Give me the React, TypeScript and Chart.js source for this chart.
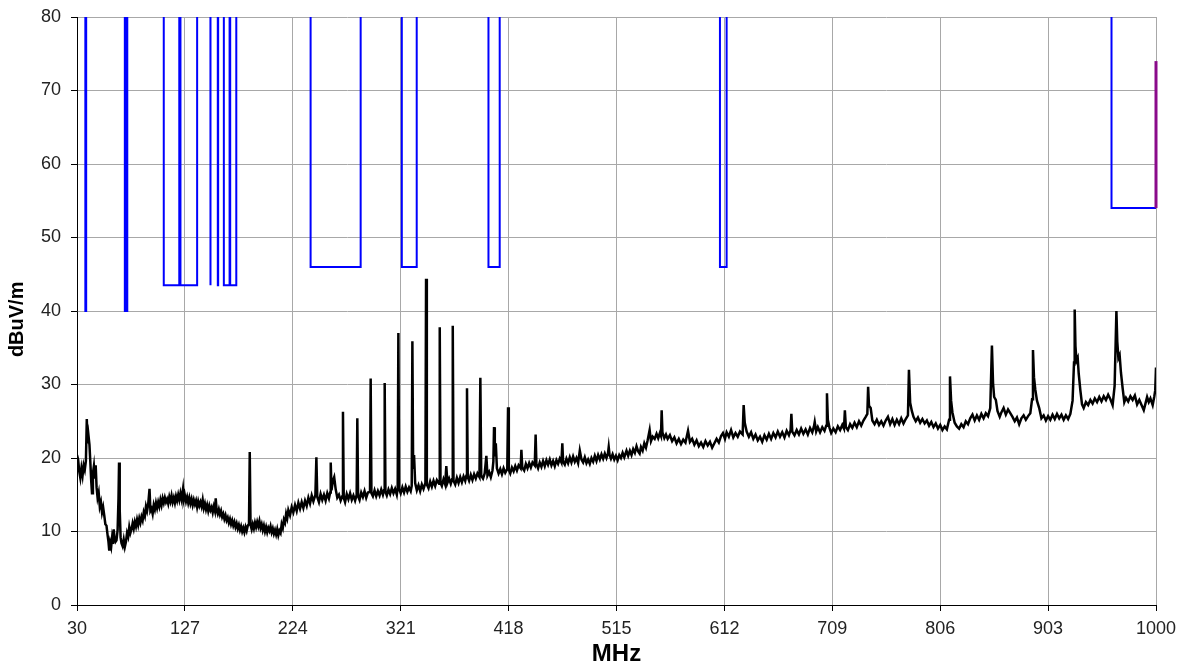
import { useEffect, useRef } from 'react';
import { Chart, registerables } from 'chart.js';

Chart.register(...registerables);

// X axis (MHz) and Y axis (dBuV/m) tick values
const xTickValues = [30, 127, 224, 321, 418, 515, 612, 709, 806, 903, 1000];
const yTickValues = [0, 10, 20, 30, 40, 50, 60, 70, 80];

// Restricted bands (limit line dips): start MHz, end MHz, limit dBuV/m
const bandStartMHz = [37.5, 73, 74.8, 108, 123, 149.9, 156.52475, 156.7, 162.0125, 167.72, 240, 322, 399.9, 608, 960];
const bandEndMHz = [38.25, 74.6, 75.2, 121.94, 138, 150.05, 156.52525, 156.9, 167.17, 173.2, 285, 335.4, 410, 614, 1000];
const bandLimitDb = [40, 40, 40, 43.5, 43.5, 43.5, 43.5, 43.5, 43.5, 43.5, 46, 46, 46, 46, 54];
const openLimitDb = 120; // outside restricted bands (off the top of the chart)

// Limit step at 1000 MHz (purple)
const edgeLimitMHz = [1000, 1000];
const edgeLimitDb = [54, 74];

// Measured emission trace: [MHz, dBuV/m]
const traceLow: [number, number][] = [
  [30, 20.4], [31, 19.8], [32, 18.2], [33, 17.3], [34, 18.6], [35, 17.6], [36, 19.0], [37, 18.4], [38, 19.6], [38.8, 25.3],
  [39.5, 22.0], [40.3, 23.1], [41.2, 21.8], [42, 19.4], [42.8, 16.8], [43.5, 15.2], [44.3, 17.9], [45.2, 18.9], [46, 17.2], [46.8, 19.0],
  [47.6, 16.0], [48.5, 14.6], [49.5, 15.3], [50.5, 13.4], [51.5, 14.0], [52.5, 12.6], [53.5, 13.3], [54.5, 12.2], [55.5, 11.0], [56.5, 10.8],
  [57.5, 9.5], [58.3, 8.6], [59, 7.4], [59.8, 8.5], [60.7, 7.9], [61.5, 9.1], [62.3, 8.3], [63, 10.3], [63.8, 9.0], [64.6, 8.6],
  [65.5, 8.8], [66.5, 10.2], [67.3, 14.5], [67.8, 19.4], [68.4, 13.0], [69.2, 9.2], [70, 8.4], [71, 8.0], [72, 8.9], [73, 7.9],
  [74, 8.6], [75, 9.8], [76, 9.3], [77, 10.6], [78, 9.8], [79, 10.3], [80, 11.1], [81, 10.4], [82, 11.3], [83, 10.7],
  [84, 11.6], [85, 10.9], [86, 11.8], [87, 11.2], [88, 12.0], [89, 11.5], [90, 12.6], [91, 12.1], [92, 13.4], [93, 12.8],
  [94, 13.7], [95.2, 15.8], [96, 12.8], [97, 13.1], [98, 12.4], [99, 13.6], [100, 13.0], [101, 13.9], [102, 13.2], [103, 14.0],
  [104, 13.4], [105, 14.3], [106, 13.6], [107, 14.5], [108, 13.9], [109, 14.6], [110, 14.0], [111, 14.4], [112, 13.8], [113, 14.7],
  [114, 14.1], [115, 14.9], [116, 14.0], [117, 14.6], [118, 13.9], [119, 14.8], [120, 14.2], [121, 15.0], [122, 14.3], [123, 15.2],
  [124, 14.4], [125.3, 15.8], [126, 14.3], [127, 14.9], [128, 14.1], [129, 14.7], [130, 13.9], [131, 14.6], [132, 13.8], [133, 14.4],
  [134, 13.6], [135, 14.3], [136, 13.7], [137, 14.2], [138, 13.3], [139, 14.1], [140, 13.5], [141, 14.0], [142, 13.4], [143, 14.3],
  [144, 13.2], [145, 13.8], [146, 13.0], [147, 13.6], [148, 12.8], [149, 13.5], [150, 12.9], [151, 13.3], [152, 12.6], [153, 13.4],
  [154, 12.8], [154.7, 14.5], [155.5, 12.9], [156.5, 12.4], [157.5, 13.0], [158.5, 12.3], [159.5, 12.8], [160.5, 12.0], [161.5, 12.4], [162.5, 11.7],
  [163.5, 12.2], [164.5, 11.5], [165.5, 11.9], [166.5, 11.2], [167.5, 11.7], [168.5, 11.0], [169.5, 11.5], [170.5, 10.8], [171.5, 11.3], [172.5, 10.6],
  [173.5, 11.1], [174.5, 10.4], [175.5, 10.9], [176.5, 10.2], [177.5, 10.7], [178.5, 10.0], [179.5, 10.5], [180.5, 9.9], [181.5, 10.6], [182.5, 10.1],
  [183.5, 10.8], [184.6, 11.0], [185.3, 20.8], [186, 10.9], [187, 10.3], [188, 11.0], [189, 10.4], [190, 11.2], [191, 10.6], [192, 11.3],
  [193, 10.7], [194, 11.4], [195, 10.5], [196, 11.0], [197, 10.2], [198, 10.8], [199, 10.0], [200, 10.6], [201, 9.9], [202, 10.5],
  [203, 10.1], [204, 10.7], [205, 9.9], [206, 10.4], [207, 9.7], [208, 10.2], [209, 9.6], [210, 10.3], [211, 9.5], [212, 10.1],
  [213, 9.8], [214, 11.0], [215, 10.5], [216, 11.6], [217, 11.2], [218, 12.4], [219, 11.8], [220, 12.9],
];

const traceMid: [number, number][] = [
  [221.5, 12.2], [223, 13.3], [224.5, 12.6], [226, 13.6], [227.5, 12.8], [229, 13.9], [230.5, 13.1], [232, 14.0], [233.5, 13.2], [235, 14.2],
  [236.5, 13.5], [238, 14.6], [239.5, 13.8], [241, 14.9], [242.5, 14.1], [244.3, 15.0], [245.2, 20.1], [246, 14.7], [247.5, 14.0], [249, 15.1],
  [250.5, 14.3], [252, 15.0], [253.5, 14.2], [255, 15.2], [256.5, 14.5], [257.6, 15.3], [258.1, 19.4], [258.8, 15.6], [260, 16.9], [261.2, 17.4],
  [262.5, 15.8], [264, 14.6], [265.5, 15.0], [267, 14.2], [268.5, 14.8], [269.1, 26.3], [269.8, 14.6], [271, 14.0], [272.5, 15.1], [274, 14.4],
  [275.5, 15.2], [277, 14.3], [278.5, 14.9], [280, 14.2], [281.4, 15.0], [282.0, 25.4], [282.7, 14.8], [284, 14.3], [285.5, 15.3], [287, 14.7],
  [288.5, 15.5], [290, 14.6], [291.5, 15.3], [293.4, 15.4], [294, 30.8], [294.7, 15.2], [296, 14.8], [297.5, 15.6], [299, 14.8], [300.5, 15.5],
  [302, 14.9], [303.5, 15.7], [305, 15.0], [306.0, 15.6], [306.6, 30.2], [307.3, 15.4], [308.5, 14.9], [310, 15.7], [311.5, 15.1], [313, 15.9],
  [314.5, 15.2], [316, 15.8], [317.5, 15.0], [318.3, 15.9], [318.9, 37.0], [319.6, 15.8], [321, 15.2], [322.5, 16.0], [324, 15.3], [325.5, 16.1],
  [327, 15.4], [328.5, 16.0], [330, 15.5], [330.9, 16.2], [331.5, 35.9], [332.2, 18.5], [333, 20.4], [334, 16.6], [335.5, 15.6], [337, 16.3],
  [338.5, 15.5], [340, 16.4], [341.5, 15.8], [343.2, 16.6], [343.8, 44.4], [344.5, 16.4], [346, 15.9], [347.5, 16.8], [349, 16.1], [350.5, 16.9],
  [352, 16.2], [353.5, 17.0], [355.5, 16.5], [356.1, 37.8], [356.8, 16.6], [358, 16.2], [359.5, 17.1], [361, 16.4], [362, 18.9], [363, 16.6],
  [364.5, 17.2], [366, 16.5], [367.2, 17.1], [367.8, 38.0], [368.5, 16.9], [370, 16.4], [371.5, 17.3], [373, 16.6], [374.5, 17.4], [376, 16.7],
  [377.5, 17.5], [379, 16.9], [380, 17.6], [380.6, 29.5], [381.3, 17.4], [382.5, 16.9], [384, 17.7], [385.5, 17.0], [387, 17.8], [388.5, 17.2],
  [390, 17.9], [391.8, 17.4], [392.6, 30.9], [393.4, 17.6], [395, 17.2], [396.5, 17.9], [398, 20.3], [399, 17.6], [400.5, 18.1], [402, 17.4],
  [403.5, 18.3], [404.3, 19.5], [404.9, 24.2], [405.6, 20.2], [406.5, 22.0], [407.5, 18.6], [409, 17.9], [410.5, 18.5], [412, 17.8], [413.5, 18.6],
  [415, 18.0], [416.8, 18.5], [417.5, 26.9], [418.2, 18.4], [419.5, 17.9], [421, 18.7], [422.5, 18.2], [424, 18.9], [425.5, 18.3], [427, 19.0],
  [428.8, 18.6], [429.5, 21.1], [430.3, 18.7], [432, 18.3], [433.5, 19.2], [435, 18.6], [436.5, 19.3], [438, 18.7], [439.5, 19.4], [441.5, 19.0],
  [442.3, 23.2], [443, 19.2], [444.5, 18.6], [446, 19.4], [447.5, 18.8], [449, 19.6], [450.5, 18.9], [452, 19.7], [453.5, 19.1], [455, 19.8],
  [456.5, 19.0], [458, 19.6], [459.5, 18.9], [461, 19.7], [462.5, 19.2], [464, 19.9], [465.5, 19.4], [466.3, 22.0], [467, 19.5], [468.5, 19.1],
  [470, 19.9], [471.5, 19.3], [473, 20.1], [474.5, 19.4], [476, 20.2], [477.5, 19.5], [479, 20.0], [480.5, 19.3], [482, 21.0], [483.5, 19.8],
  [485, 19.4], [486.5, 20.1], [488, 19.3], [489.5, 19.8], [491, 19.2], [492.5, 20.0], [494, 19.5], [495.5, 20.3], [497, 19.6], [498.5, 20.4],
  [500, 19.8], [501.5, 20.5], [503, 19.9], [504.5, 20.6], [506, 20.0], [507.3, 20.6], [508, 21.5], [508.8, 20.4], [510, 19.9], [511.5, 20.5],
  [513, 19.8], [514.5, 20.3], [516, 19.7], [517.5, 20.4], [519, 20.0], [520.5, 20.7], [522, 20.1], [524, 21.0], [525.5, 20.3], [527, 21.0],
  [528.5, 20.4], [530, 21.2], [531.5, 20.7], [533, 21.6], [534.5, 20.9], [535.8, 20.6], [537, 21.5], [538.5, 21.0], [540, 22.0], [541.5, 21.4],
  [543, 22.4], [544.8, 23.8], [546, 22.3], [547.5, 22.9], [549.3, 22.6], [551, 23.3], [552.5, 22.7], [554, 23.4], [555, 23.0], [555.6, 26.5],
  [556.3, 23.5], [558, 22.7], [559.5, 23.2],
];

const traceHigh: [number, number][] = [
  [561, 22.6], [563, 23.1], [565, 22.3], [567, 22.8], [569, 22.0], [571, 22.6], [573, 21.9], [575, 22.5], [577, 22.1], [579.3, 23.7],
  [581, 22.2], [583, 22.6], [585, 21.8], [587, 22.4], [589, 21.6], [591, 22.1], [593, 21.5], [595, 22.3], [597, 21.7], [599, 22.2],
  [601, 21.4], [603, 22.0], [605, 22.6], [607, 22.1], [609, 23.0], [610.7, 23.4], [612.5, 22.6], [614, 23.5], [616, 22.9], [618, 23.8],
  [620, 22.8], [622, 23.4], [624, 22.9], [626, 23.6], [628.4, 23.2], [629.3, 27.2], [630.3, 24.8], [632, 23.6], [634, 22.9], [636, 23.5],
  [638, 22.6], [640, 23.2], [642, 22.4], [644, 22.9], [646, 22.2], [648, 23.1], [650, 22.5], [652, 23.3], [654, 22.6], [656, 23.4],
  [658, 22.8], [660, 23.6], [662, 22.9], [664, 23.5], [666, 22.8], [668, 23.7], [670, 23.1], [671.5, 23.8], [672.2, 26.0], [673, 23.6],
  [675, 23.1], [677, 23.8], [679, 23.2], [681, 24.0], [683, 23.3], [685, 23.9], [687, 23.2], [689, 24.1], [691, 23.5], [692.5, 24.3],
  [693.2, 24.9], [694.5, 23.6], [696, 24.2], [698, 23.5], [700, 24.2], [702, 23.7], [703.5, 24.4], [704.2, 28.8], [705, 25.2], [706.5, 24.1],
  [708, 23.4], [710, 24.0], [712, 23.5], [714, 24.3], [716, 23.8], [718, 24.5], [719.5, 24.0], [720.3, 26.5], [721.2, 24.2], [723, 23.8],
  [725, 24.6], [727, 24.1], [729, 24.8], [731, 24.2], [733, 25.0], [735, 24.4], [737, 25.1], [739, 25.6], [740.5, 26.0], [741.2, 29.7],
  [742, 27.1], [743.5, 26.8], [745, 25.1], [747, 24.6], [749, 25.2], [751, 24.5], [753, 25.0], [755, 24.4], [757, 25.1], [759, 25.6],
  [761, 24.6], [763, 25.3], [765, 24.5], [767, 25.2], [769, 24.6], [771, 25.4], [773, 24.7], [775, 25.3], [777, 25.8], [777.9, 32.0],
  [779, 27.5], [780.5, 26.4], [782, 25.6], [784, 25.0], [786, 25.5], [788, 24.8], [790, 25.3], [792, 24.7], [794, 25.1], [796, 24.4],
  [798, 24.9], [800, 24.2], [802, 24.7], [804, 24.0], [806, 24.5], [808, 23.8], [810, 24.3], [812, 23.9], [814, 25.2], [814.8, 31.1],
  [815.8, 27.8], [817, 26.2], [819, 24.8], [821, 24.3], [823, 24.0], [825, 24.6], [827, 24.2], [829, 25.0], [831, 24.6], [833, 25.4],
  [835, 25.9], [837, 25.1], [839, 25.8], [841, 25.2], [843, 26.0], [845, 25.4], [847, 26.1], [849, 25.7], [851, 26.8], [852.5, 35.3],
  [853.5, 30.2], [854.5, 28.3], [856, 27.9], [857.5, 26.4], [859.5, 25.6], [861, 26.2], [863, 26.8], [865, 25.9], [867, 26.6], [869, 26.1],
  [871, 25.6], [873, 25.0], [875, 25.5], [877, 24.6], [879, 25.4], [881, 25.8], [883, 25.2], [885, 25.7], [887, 26.1], [888.6, 28.0],
  [889.4, 34.7], [890.3, 31.0], [891.5, 29.3], [893, 27.8], [895, 26.8], [897, 25.4], [899, 25.8], [901, 25.1], [903, 25.7], [905, 25.2],
  [907, 25.9], [909, 25.3], [911, 26.0], [913, 25.4], [915, 25.9], [917, 25.2], [919, 25.8], [921, 25.3], [923, 26.0], [925, 27.8],
  [926.3, 33.0], [926.9, 40.2], [927.6, 35.2], [928.5, 33.2], [929.6, 33.6], [930.5, 31.5], [932, 29.2], [933.5, 27.3], [935, 26.8], [937, 27.6],
  [939, 27.2], [941, 27.9], [943, 27.4], [945, 28.1], [947, 27.6], [949, 28.3], [951, 27.7], [953, 28.4], [955, 27.9], [957, 28.6],
  [959, 28.0], [961, 27.2], [962.8, 29.8], [963.7, 35.5], [964.4, 40.0], [965.2, 35.8], [966.2, 33.6], [967.3, 34.0], [968.5, 31.6], [970, 29.5],
  [971.5, 27.6], [973, 28.2], [975, 27.7], [977, 28.4], [979, 27.9], [981, 28.5], [983, 27.3], [985, 27.9], [987, 27.2], [989, 26.5],
  [990.5, 27.4], [992, 28.3], [993.5, 27.6], [995, 28.1], [997, 27.2], [998.5, 28.4], [999.3, 29.2], [1000, 32.3],
];

const FONT = "'Liberation Sans', Arial, sans-serif";

function buildLimitPoints() {
  const pts: { x: number; y: number }[] = [{ x: 30, y: openLimitDb }];
  bandStartMHz.forEach((s, i) => {
    const e = bandEndMHz[i];
    const lim = bandLimitDb[i];
    pts.push({ x: s, y: openLimitDb }, { x: s, y: lim }, { x: e, y: lim });
    if (e < 1000) pts.push({ x: e, y: openLimitDb });
  });
  return pts;
}

export default function App() {
  const ref = useRef<HTMLCanvasElement>(null);

  useEffect(() => {
    const trace = [...traceLow, ...traceMid, ...traceHigh].map(([x, y]) => ({ x, y }));
    const limit = buildLimitPoints();
    const edge = edgeLimitMHz.map((x, i) => ({ x, y: edgeLimitDb[i] }));

    const chart = new Chart(ref.current!, {
      type: 'line',
      data: {
        datasets: [
          { data: edge, borderColor: '#8a0a8a', borderWidth: 3, pointRadius: 0, tension: 0, fill: false, clip: 4 },
          { data: limit, borderColor: '#0000ff', borderWidth: 2, pointRadius: 0, tension: 0, fill: false },
          { data: trace, borderColor: '#000000', borderWidth: 2.5, pointRadius: 0, tension: 0, fill: false },
        ],
      },
      options: {
        responsive: false,
        animation: false,
        events: [],
        layout: { padding: { left: 0, right: 36, top: 17, bottom: 0 } },
        plugins: { legend: { display: false }, tooltip: { enabled: false } },
        scales: {
          x: {
            type: 'linear',
            min: 30,
            max: 1000,
            afterBuildTicks: (scale: any) => {
              scale.ticks = xTickValues.map((v) => ({ value: v }));
            },
            afterFit: (scale: any) => {
              scale.height = 65;
              scale.paddingLeft = 0;
              scale.paddingRight = 0;
            },
            ticks: {
              autoSkip: false,
              maxRotation: 0,
              color: '#222',
              padding: 7,
              font: { family: FONT, size: 18 },
              callback: (v: any) => String(v),
            },
            grid: { color: '#a8a8a8', lineWidth: 1, tickLength: 6, tickColor: '#000' },
            border: { color: '#000', width: 1 },
            title: { display: true, text: 'MHz', color: '#000', font: { family: FONT, size: 24, weight: 'bold' }, padding: { top: 0, bottom: 1 } },
          },
          y: {
            type: 'linear',
            min: 0,
            max: 80,
            afterBuildTicks: (scale: any) => {
              scale.ticks = yTickValues.map((v) => ({ value: v }));
            },
            afterFit: (scale: any) => {
              scale.width = 77;
              scale.paddingTop = 0;
              scale.paddingBottom = 0;
            },
            ticks: { color: '#222', padding: 10, font: { family: FONT, size: 18 }, callback: (v: any) => String(v) },
            grid: { color: '#a8a8a8', lineWidth: 1, tickLength: 6, tickColor: '#000' },
            border: { color: '#000', width: 1 },
            title: { display: true, text: 'dBuV/m   ', color: '#000', font: { family: FONT, size: 20, weight: 'bold' }, padding: { top: 5, bottom: 0 } },
          },
        },
      },
    });
    return () => chart.destroy();
  }, []);

  return (
    <div style={{ position: 'absolute', left: 0, top: 0, width: 1192, height: 670, background: '#fff' }}>
      <canvas ref={ref} width={1192} height={670} style={{ display: 'block' }} />
    </div>
  );
}
